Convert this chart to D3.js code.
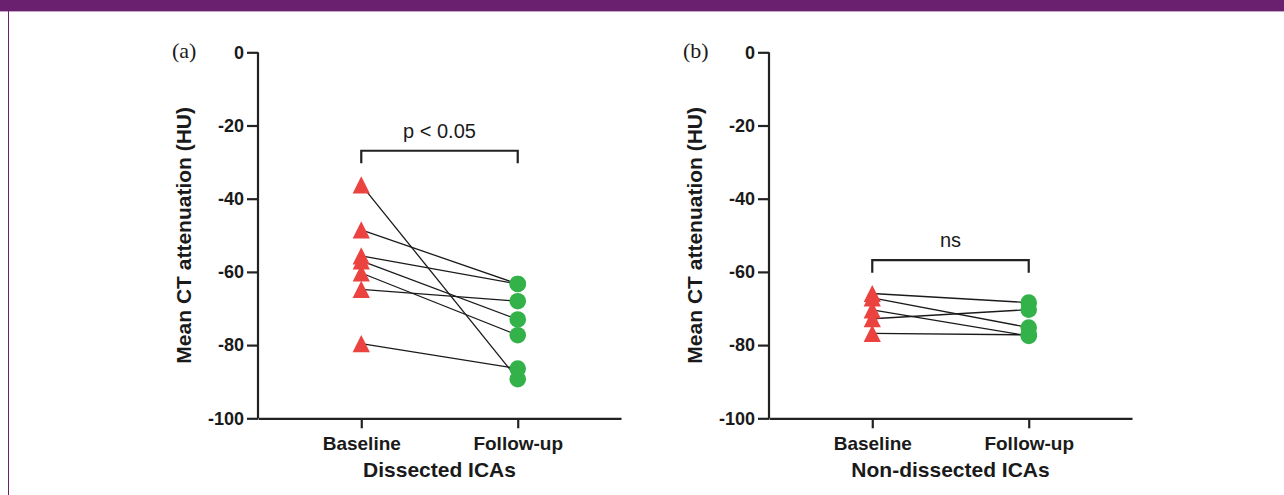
<!DOCTYPE html>
<html>
<head>
<meta charset="utf-8">
<script src="https://cdn.jsdelivr.net/npm/d3@7/dist/d3.min.js"></script>
<style>
  body { margin: 0; background: #fff; }
  svg text { font-family: "Liberation Sans", Arial, sans-serif; fill: #1a1a1a; }
</style>
</head>
<body>
<script>
// data
var groups = ["Baseline", "Follow-up"];
var yTicks = [0, -20, -40, -60, -80, -100];

var dissectedBaseline = [-36.2, -48.5, -55.6, -57.0, -60.3, -64.8, -79.6];
var dissectedFollowup = [-89.3, -63.3, -63.3, -73.0, -77.3, -68.0, -86.4];

var nonDissectedBaseline = [-65.9, -67.1, -70.4, -72.8, -76.8];
var nonDissectedFollowup = [-68.4, -75.2, -77.5, -70.3, -77.2];

var panels = [
  { tag: "(a)", title: "Dissected ICAs", sig: "p < 0.05", sigY: -26.9,
    base: dissectedBaseline, follow: dissectedFollowup, left: 258 },
  { tag: "(b)", title: "Non-dissected ICAs", sig: "ns", sigY: -56.8,
    base: nonDissectedBaseline, follow: nonDissectedFollowup, left: 769 }
];

var W = 1284, H = 495;
var svg = d3.select("body").append("svg").attr("width", W).attr("height", H);

// page frame
svg.append("rect").attr("x", 0).attr("y", 0).attr("width", W).attr("height", 11).attr("fill", "#6b1f6f");
svg.append("rect").attr("x", 0).attr("y", 11).attr("width", W).attr("height", 1).attr("fill", "#c8a6cb");
svg.append("rect").attr("x", 8).attr("y", 11).attr("width", 1).attr("height", H - 11).attr("fill", "#6b1f6f");

var plotW = 363, plotTop = 52.3, plotBottom = 418.3;
var y = d3.scaleLinear().domain([-100, 0]).range([plotBottom, plotTop]);
var red = "#eb4340", green = "#33b24a";
var tri = "M0,-8.6L8.6,8.6L-8.6,8.6Z";

panels.forEach(function (p) {
  var g = svg.append("g").attr("transform", "translate(" + p.left + ",0)");
  var x = d3.scalePoint().domain(groups).range([0, plotW]).padding(0.66);

  var yAxis = g.append("g")
    .call(d3.axisLeft(y).tickValues(yTicks).tickSize(11).tickPadding(3)
      .tickFormat(function (d) { return String(d); }));
  var xAxis = g.append("g").attr("transform", "translate(0," + plotBottom + ")")
    .call(d3.axisBottom(x).tickSize(10).tickPadding(6).tickSizeOuter(0));

  [yAxis, xAxis].forEach(function (a) {
    a.select(".domain").attr("stroke", "#222").attr("stroke-width", 2.2);
    a.selectAll(".tick line").attr("stroke", "#222").attr("stroke-width", 2.2);
    a.selectAll("text").attr("font-size", 18).attr("font-weight", "bold").attr("fill", "#1a1a1a");
  });
  yAxis.select(".domain").attr("d", "M0," + plotBottom + "V" + plotTop);
  xAxis.selectAll("text").attr("font-size", 19).attr("dy", "0.85em");

  // axis titles
  g.append("text")
    .attr("transform", "translate(-67," + ((plotTop + plotBottom) / 2) + ") rotate(-90)")
    .attr("text-anchor", "middle").attr("font-size", 21).attr("font-weight", "bold")
    .text("Mean CT attenuation (HU)");
  g.append("text").attr("x", (x(groups[0]) + x(groups[1])) / 2).attr("y", 477)
    .attr("text-anchor", "middle").attr("font-size", 21).attr("font-weight", "bold")
    .text(p.title);

  g.append("text").attr("x", -86).attr("y", 58)
    .style("font-family", "'Liberation Serif', 'Times New Roman', serif")
    .attr("font-size", 22).text(p.tag);

  // paired lines
  p.base.forEach(function (v, i) {
    g.append("line")
      .attr("x1", x(groups[0])).attr("y1", y(v))
      .attr("x2", x(groups[1])).attr("y2", y(p.follow[i]))
      .attr("stroke", "#1a1a1a").attr("stroke-width", 1.3);
  });

  g.selectAll(".tri").data(p.base).enter().append("path")
    .attr("d", tri).attr("fill", red)
    .attr("transform", function (d) { return "translate(" + x(groups[0]) + "," + y(d) + ")"; });
  g.selectAll(".dot").data(p.follow).enter().append("circle")
    .attr("cx", x(groups[1])).attr("cy", function (d) { return y(d); })
    .attr("r", 8.3).attr("fill", green);

  // significance bracket
  var by = y(p.sigY);
  g.append("path")
    .attr("d", "M" + x(groups[0]) + "," + (by + 12.5) + "V" + by + "H" + x(groups[1]) + "V" + (by + 12.5))
    .attr("fill", "none").attr("stroke", "#222").attr("stroke-width", 2.2);
  g.append("text").attr("x", (x(groups[0]) + x(groups[1])) / 2).attr("y", by - 13)
    .attr("text-anchor", "middle").attr("font-size", 20).text(p.sig);
});
</script>
</body>
</html>
